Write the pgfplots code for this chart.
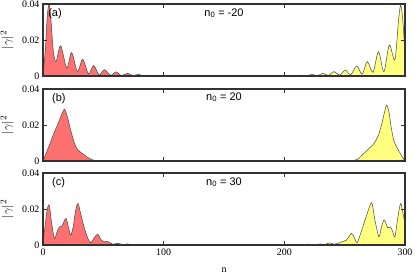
\documentclass[border=0pt]{standalone}
\usepackage{fontspec}
\setmainfont{Liberation Serif}
\setsansfont{Liberation Sans}
\usepackage{pgfplots}
\pgfplotsset{compat=1.18}
\definecolor{redfill}{RGB}{255,112,112}
\definecolor{yelfill}{RGB}{255,255,128}
\definecolor{edge}{RGB}{50,50,50}
\definecolor{curve}{RGB}{70,70,70}

\tikzset{lab/.style={font=\sffamily\fontsize{11}{13}\selectfont, inner sep=0pt}}
\pgfplotsset{panel/.style={
  scale only axis, width=362bp, height=72bp,
  xmin=0, xmax=300, ymin=0, ymax=0.04,
  xtick={0,100,200,300}, ytick={0,0.02,0.04},
  tick align=inside, major tick length=4bp,
  tick style={line width=0.9pt, color=edge},
  axis line style={line width=1.3pt, color=edge},
  scaled y ticks=false,
  yticklabel style={/pgf/number format/fixed, /pgf/number format/precision=2},
  /pgf/number format/assume math mode=true,
  tick label style={font=\fontsize{10}{12}\selectfont},
  ylabel={$|\gamma|^2$},
  every axis y label/.style={at={(rel axis cs:-0.099,0.5)}, anchor=center, rotate=90, font=\fontsize{13}{15}\selectfont},
  clip=true,
  axis on top,
},
redcurve/.style={fill=redfill, draw=curve, line width=0.5pt, smooth, tension=0.5},
yelcurve/.style={fill=yelfill, draw=curve, line width=0.5pt, smooth, tension=0.5},
}

\begin{document}
\begin{tikzpicture}
% ---------------- panel (a) ----------------
\begin{axis}[panel, at={(0,0)}, anchor=north west, xticklabels={}]
\addplot[redcurve] coordinates {
(0,0.000) (2,0.015) (3.5,0.033) (5,0.040) (6.5,0.032) (8.5,0.014) (10.8,0.008)
(14.6,0.0168) (19.7,0.0045) (23.7,0.0130) (28.5,0.0025) (32.9,0.0093)
(37.7,0.0012) (42,0.0058) (46.5,0.0006) (51,0.0035) (56,0.0004) (60.5,0.0023)
(65,0.0003) (70,0.0015) (74.5,0.0002) (79,0.0009) (83.5,0.0001) (88,0.0005)
(92.5,0.0001) (97,0.0003) (101,0.0001) (106,0.0)
} \closedcycle;
\addplot[yelcurve] coordinates {
(205,0.0) (210,0.0001) (214,0.0005) (218.5,0.0001) (223,0.0009) (227.5,0.0002)
(232,0.0015) (236.5,0.0003) (241,0.0024) (246,0.0005) (250.5,0.0033) (255,0.0007)
(260,0.0056) (264.5,0.0010) (268.7,0.0080) (273.5,0.0020) (278,0.0135) (282.5,0.0024)
(287,0.0172) (291.6,0.0089) (294.5,0.030) (296.4,0.0394) (298.3,0.030) (300,0.012)
} \closedcycle;
\node[lab, anchor=base west] at (rel axis cs:0.014,0.833) {(a)};
\node[lab, anchor=base] at (rel axis cs:0.5,0.833) {n\textsubscript{0} = -20};
\coordinate (TL) at (rel axis cs:0,1);
\end{axis}
% ---------------- panel (b) ----------------
\begin{axis}[panel, at={(0,-85bp)}, anchor=north west, xticklabels={}]
\addplot[redcurve] coordinates {
(0,0.0) (3,0.005) (6,0.010) (9,0.0155) (12,0.020) (15,0.025) (17.7,0.0287)
(20,0.025) (23,0.017) (26,0.010) (28.4,0.0065) (31,0.005) (34,0.0035)
(37,0.002) (40,0.0009) (43,0.0002) (47,0.0)
} \closedcycle;
\addplot[yelcurve] coordinates {
(248,0.0) (253,0.0001) (257,0.0003) (260.4,0.0008) (264,0.003) (268,0.0055)
(271,0.0075) (274,0.0095) (277.8,0.014) (280.5,0.020) (283,0.027) (284.7,0.031)
(286.5,0.028) (288.5,0.019) (290.5,0.012) (292.5,0.0085) (295,0.0055) (297.5,0.0025) (300,0.0)
} \closedcycle;
\node[lab, anchor=base west] at (rel axis cs:0.025,0.82) {(b)};
\node[lab, anchor=base] at (rel axis cs:0.5,0.845) {n\textsubscript{0} = 20};
\end{axis}
% ---------------- panel (c) ----------------
\begin{axis}[panel, at={(0,-169bp)}, anchor=north west, xlabel={n},
  every axis x label/.style={at={(rel axis cs:0.5,0)}, anchor=north, yshift=-19bp, font=\fontsize{10}{12}\selectfont}]
\addplot[redcurve] coordinates {
(0,0.002) (2,0.012) (3.5,0.020) (5.2,0.022) (7,0.013) (9.4,0.0037) (11.5,0.007)
(13.5,0.010) (15.7,0.0105) (19,0.0148) (21,0.010) (23,0.0055) (25,0.010)
(27,0.019) (29,0.0231) (31,0.018) (34,0.010) (37,0.004) (39.5,0.0013)
(42.5,0.004) (45.3,0.006) (48,0.003) (50.5,0.0018) (53,0.002) (55,0.0015)
(58,0.0004) (62,0.001) (66,0.0002) (70,0.0006) (74,0.0001) (78,0.0003)
(82,0.0001) (86,0.0)
} \closedcycle;
\addplot[yelcurve] coordinates {
(212,0.0) (216,0.0001) (220,0.0005) (225,0.0001) (229.6,0.0006) (233,0.0002)
(237.8,0.0012) (241,0.0004) (244,0.0008) (247.5,0.0017) (251.6,0.0028)
(255.7,0.0065) (258,0.004) (260.4,0.0013) (264,0.008) (268,0.016) (272.3,0.0235)
(275,0.014) (278.4,0.0046) (280.5,0.010) (282.8,0.0139) (285.6,0.0097) (288,0.010)
(289.5,0.008) (291.6,0.0046) (294,0.015) (296.4,0.0231) (298.5,0.017) (300,0.012)
} \closedcycle;
\node[lab, anchor=base west] at (rel axis cs:0.025,0.82) {(c)};
\node[lab, anchor=base] at (rel axis cs:0.5,0.833) {n\textsubscript{0} = 30};
\coordinate (BR) at (rel axis cs:1,0);
\end{axis}
\pgfresetboundingbox
\path ([shift={(-43bp,4bp)}]TL) rectangle ([shift={(10bp,-28bp)}]BR);
\end{tikzpicture}
\end{document}
